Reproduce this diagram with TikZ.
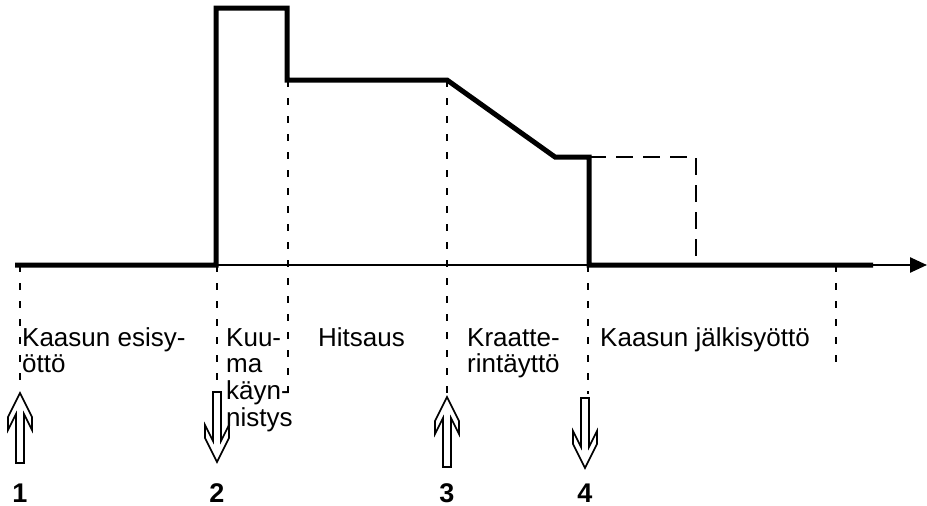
\documentclass[tikz,border=0pt]{standalone}
\usepackage{fontspec}
\setmainfont{Liberation Sans}
\usetikzlibrary{arrows.meta}
\begin{document}
\begin{tikzpicture}[x=1pt,y=-1pt,
  wave/.style={line width=5pt, line join=miter},
  axisline/.style={line width=2.5pt, -{Triangle[length=17pt,width=15pt]}},
  guide/.style={line width=2pt, dash pattern=on 7pt off 11pt},
  extend/.style={line width=2pt, dash pattern=on 17pt off 10pt},
  lbl/.style={anchor=base west, inner sep=0pt, font=\fontsize{26}{26.7}\selectfont},
  num/.style={anchor=base, inner sep=0pt, font=\fontsize{27}{27}\selectfont\bfseries},
  hollow/.style={line width=1.6pt, fill=white, line join=miter}
]
\useasboundingbox (0,0) rectangle (927,506);
\fill[white] (0,0) rectangle (927,506);

% axis
\coordinate (ax0) at (15,265);
\coordinate (ax1) at (927,265);
\draw[axisline] (ax0) -- (ax1);

% waveform
\coordinate (w0) at (15,265);
\coordinate (w1) at (216,265);
\coordinate (w2) at (216,8);
\coordinate (w3) at (287,8);
\coordinate (w4) at (287,80);
\coordinate (w5) at (447,80);
\coordinate (w6) at (555,157);
\coordinate (w7) at (589,157);
\coordinate (w8) at (589,265);
\coordinate (w9) at (873,265);
\draw[wave] (w0) -- (w1) -- (w2) -- (w3) -- (w4) -- (w5) -- (w6) -- (w7) -- (w8) -- (w9);

% dashed extension
\coordinate (e1) at (696,157);
\coordinate (e2) at (696,265);
\draw[extend] (w7) -- (e1) -- (e2);

% guide lines
\coordinate (g1a) at (20,265);  \coordinate (g1b) at (20,390);
\coordinate (g2a) at (217,265); \coordinate (g2b) at (217,390);
\coordinate (g3a) at (288,80);  \coordinate (g3b) at (288,398);
\coordinate (g4a) at (447,80);  \coordinate (g4b) at (447,394);
\coordinate (g5a) at (588,265); \coordinate (g5b) at (588,394);
\coordinate (g6a) at (836,265); \coordinate (g6b) at (836,366);
\foreach \g in {1,...,6} \draw[guide] (g\g a) -- (g\g b);

% labels, one node per printed line
\node[lbl] (t1a) at (22,346) {Kaasun esisy-};
\node[lbl] (t1b) at (22,372.7) {öttö};
\node[lbl] (t2a) at (226,346) {Kuu-};
\node[lbl] (t2b) at (226,372.7) {ma};
\node[lbl] (t2c) at (226,399.4) {käyn-};
\node[lbl] (t2d) at (226,426) {nistys};
\node[lbl] (t3) at (318,346) {Hitsaus};
\node[lbl] (t4a) at (467,346) {Kraatte-};
\node[lbl] (t4b) at (467,372.7) {rintäyttö};
\node[lbl] (t5) at (600,346) {Kaasun jälkisyöttö};

% hollow arrows
\def\hollowarrow{(0,0) -- (12,24) -- (12,37) -- (4,21) -- (4,70) -- (-4,70) -- (-4,21) -- (-12,37) -- (-12,24) -- cycle}
\draw[hollow, shift={(20,393)}] \hollowarrow;
\draw[hollow, shift={(217,462)}, yscale=-1] \hollowarrow;
\draw[hollow, shift={(447,397)}] \hollowarrow;
\draw[hollow, shift={(585,468)}, yscale=-1] \hollowarrow;

% numbers
\node[num] (n1) at (20,502) {1};
\node[num] (n2) at (217,502) {2};
\node[num] (n3) at (447,502) {3};
\node[num] (n4) at (585,502) {4};
\end{tikzpicture}
\end{document}
